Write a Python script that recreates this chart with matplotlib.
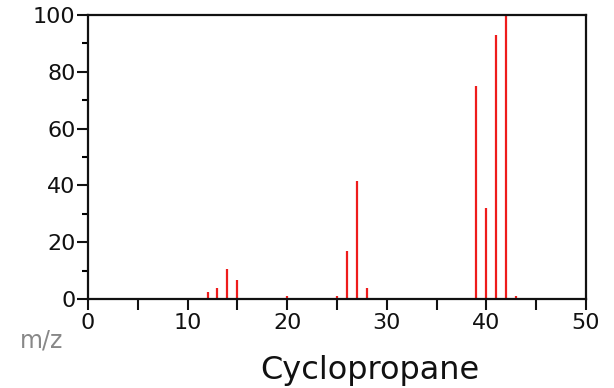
import matplotlib
matplotlib.use("Agg")
import matplotlib.pyplot as plt
from matplotlib.ticker import MultipleLocator

# mass spectrum peaks (m/z, relative intensity)
mz = [12, 13, 14, 15, 20, 25, 26, 27, 28, 39, 40, 41, 42, 43]
intensity = [2.3, 4, 10.5, 6.6, 1, 1, 17, 41.5, 3.8, 75, 32, 93, 100, 1]

x_ticks = [0, 10, 20, 30, 40, 50]
y_ticks = [0, 20, 40, 60, 80, 100]

fig = plt.figure(figsize=(6.14, 3.88), dpi=100)
ax = fig.add_axes([88/614, 1 - 299/388, (586 - 88)/614, (299 - 15)/388])

ax.vlines(mz, 0, intensity, colors="#ee1c1c", linewidth=1.6)

ax.set_xlim(0, 50)
ax.set_ylim(0, 100)
ax.set_xticks(x_ticks)
ax.set_yticks(y_ticks)
ax.xaxis.set_minor_locator(MultipleLocator(5))
ax.yaxis.set_minor_locator(MultipleLocator(10))

for s in ax.spines.values():
    s.set_linewidth(1.6)
    s.set_color("#111111")

ax.tick_params(axis="x", which="both", direction="out", length=8, width=1.5,
               labelsize=16, pad=2, colors="#111111")
ax.tick_params(axis="y", which="major", direction="out", length=8, width=1.5,
               labelsize=16, pad=1, colors="#111111")
ax.tick_params(axis="y", which="minor", direction="out", length=4, width=1.5)

fig.text(20/614, 1 - 341/388, "m/z", fontsize=17, color="#888888",
         ha="left", va="center")
fig.text(370/614, 1 - 370/388, "Cyclopropane", fontsize=23, color="#111111",
         ha="center", va="center")

fig.savefig("out.png", dpi=100)
